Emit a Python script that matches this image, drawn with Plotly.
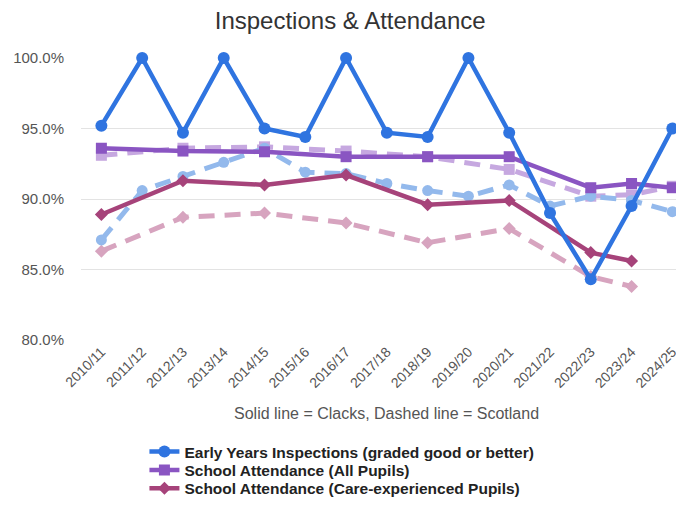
import plotly.graph_objects as go

years = ["2010/11", "2011/12", "2012/13", "2013/14", "2014/15", "2015/16", "2016/17",
         "2017/18", "2018/19", "2019/20", "2020/21", "2021/22", "2022/23", "2023/24", "2024/25"]

ey_clacks = [95.2, 100.0, 94.7, 100.0, 95.0, 94.4, 100.0, 94.7, 94.4, 100.0, 94.7, 89.0, 84.3, 89.5, 95.0]
ey_scotland = [87.1, 90.6, 91.6, 92.6, 93.6, 91.9, 91.8, 91.1, 90.6, 90.2, 91.0, 89.5, 90.2, 89.9, 89.1]

att_clacks = [93.6, None, 93.4, None, 93.35, None, 93.0, None, 93.0, None, 93.0, None, 90.8, 91.1, 90.8]
att_scotland = [93.1, None, 93.6, None, 93.7, None, 93.4, None, 93.0, None, 92.1, None, 90.2, 90.3, 90.9]

care_clacks = [88.9, None, 91.3, None, 91.0, None, 91.7, None, 89.6, None, 89.9, None, 86.2, 85.6, None]
care_scotland = [86.3, None, 88.7, None, 89.0, None, 88.3, None, 86.9, None, 87.9, None, 84.5, 83.8, None]

y_ticks = [80, 85, 90, 95, 100]
y_tick_labels = ["80.0%", "85.0%", "90.0%", "95.0%", "100.0%"]

series_names = ["Early Years Inspections (graded good or better)",
                "School Attendance (All Pupils)",
                "School Attendance (Care-experienced Pupils)"]

BLUE, PURPLE, MAROON = "#2f74e0", "#8a55c2", "#a6437a"
LBLUE, LPURPLE, LMAROON = "#93b9ec", "#c6a8e0", "#d7a4bf"

FONT = "Liberation Sans, Arial, sans-serif"

fig = go.Figure()

def dashed(y, color, symbol, size):
    fig.add_trace(go.Scatter(
        x=years, y=y, mode="lines+markers", connectgaps=True, showlegend=False,
        line=dict(color=color, width=5, dash="16px,10px"),
        marker=dict(color=color, symbol=symbol, size=size),
        cliponaxis=False, hoverinfo="skip"))

dashed(care_scotland, LMAROON, "diamond", 10)
dashed(att_scotland, LPURPLE, "square", 11)
dashed(ey_scotland, LBLUE, "circle", 11)

def solid(y, color, symbol, size, name, legend):
    fig.add_trace(go.Scatter(
        x=years, y=y, mode="lines+markers", connectgaps=True, name=name,
        line=dict(color=color, width=4.5),
        marker=dict(color=color, symbol=symbol, size=size),
        cliponaxis=False, legend=legend))

solid(care_clacks, MAROON, "diamond", 10, series_names[2], "legend3")
solid(att_clacks, PURPLE, "square", 11, series_names[1], "legend2")
solid(ey_clacks, BLUE, "circle", 12, series_names[0], "legend")

def leg(y):
    return dict(orientation="v", x=0.1066, xanchor="left", y=y, yanchor="middle",
                font=dict(size=15.5, color="#222", family=FONT, weight="bold"),
                itemwidth=30, bgcolor="rgba(0,0,0,0)")

fig.update_layout(
    width=676, height=507,
    margin=dict(l=81, r=0, t=58, b=167),
    paper_bgcolor="white", plot_bgcolor="white",
    font=dict(family=FONT, color="#444"),
    title=dict(text="Inspections & Attendance", x=0.518, xref="container", xanchor="center",
               y=0.959, yref="container", yanchor="middle",
               font=dict(size=24, color="#333", family=FONT)),
    xaxis=dict(range=[-0.5, 14.09], showgrid=False, zeroline=False, showline=False,
               tickangle=-45, tickfont=dict(size=14, color="#555"), ticks="",
               automargin=False),
    yaxis=dict(range=[80, 100], tickvals=y_ticks, ticktext=y_tick_labels,
               gridcolor="#e3e3e3", gridwidth=1, zeroline=False,
               showline=False, tickfont=dict(size=15, color="#555"), ticks="",
               ticklabelstandoff=16, automargin=False),
    legend=leg(-0.3972),
    legend2=leg(-0.4628),
    legend3=leg(-0.527),
    annotations=[dict(text="Solid line = Clacks, Dashed line = Scotland", xref="paper",
                      yref="paper", x=0.513, y=-0.259, showarrow=False, yanchor="middle",
                      font=dict(size=16, color="#555"))],
    showlegend=True,
)

fig.write_html("out.html", config={"displayModeBar": False},
               post_script="document.body.style.margin='0';document.body.style.overflow='hidden';")
